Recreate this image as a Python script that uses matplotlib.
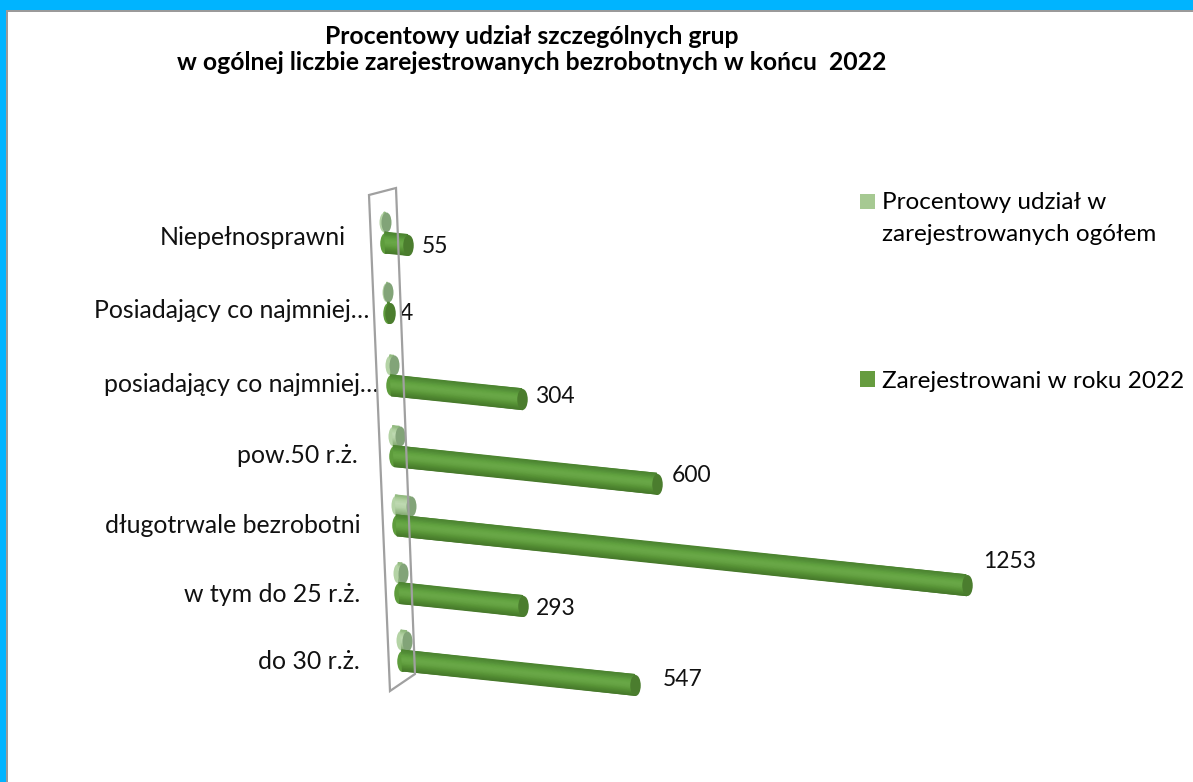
import matplotlib
matplotlib.use('Agg')
import matplotlib.pyplot as plt
import numpy as np
from matplotlib.colors import LinearSegmentedColormap
from matplotlib.legend_handler import HandlerPatch
from matplotlib.markers import MarkerStyle
from matplotlib.patches import Patch, Polygon, Rectangle
from matplotlib.transforms import Affine2D

plt.rcParams['font.family'] = ['Lato', 'DejaVu Sans']

# data, bottom row first
categories = ['do 30 r.ż.', 'w tym do 25 r.ż.', 'długotrwale bezrobotni', 'pow.50 r.ż.',
              'posiadający co najmniej…', 'Posiadający co najmniej…', 'Niepełnosprawni']
registered = [547, 293, 1253, 600, 304, 4, 55]
share = [13, 9, 33, 15, 9, 1, 3]  # no labels in the picture, read from disc length

title = 'Procentowy udział szczególnych grup\nw ogólnej liczbie zarejestrowanych bezrobotnych w końcu  2022'
share_name = 'Procentowy udział w\nzarejestrowanych ogółem'
registered_name = 'Zarejestrowani w roku 2022'

# layout, pixels unless noted
W, H = 1193, 782
row_pos = [0, 0.964, 1.93, 2.92, 3.93, 4.97, 5.97]  # rows are not quite even in the 3D view
row_depth = [0.937, 0.93, 1.0, 0.965, 0.95, 0.95, 0.92]  # perspective squeezes some rows
label_offsets = [(-42, -1), (-39, -1), (-36, 0), (-36, 1), (-12, 1), (-19, 2), (-39, 5)]
value_offsets = [(28, 5), (13, -2), (17, 24), (15, 8), (13, 3), (10, -1), (14, -1)]
plane_px = [(369, 195), (396, 188), (415, 674), (390, 691)]

main_cmap = LinearSegmentedColormap.from_list(
    'main', ['#47792b', '#4e8630', '#5a9638', '#66a444', '#6aa848', '#62a340', '#56923a', '#4c8430'])
disc_cmap = LinearSegmentedColormap.from_list(
    'disc', ['#7fa56f', '#9abd8a', '#b6d3a8', '#c0dbb3', '#b0d0a0', '#8fb87c'])

fig = plt.figure(figsize=(W / 100, H / 100), dpi=100, facecolor='white')

# cyan frame top and left, thin grey line inside it
fig.add_artist(Rectangle((0, 1 - 10 / H), 1, 10 / H, transform=fig.transFigure, color='#00b4ff', lw=0))
fig.add_artist(Rectangle((0, 0), 6 / W, 1, transform=fig.transFigure, color='#00b4ff', lw=0))
fig.add_artist(Rectangle((6 / W, 1 - 12 / H), 1, 2 / H, transform=fig.transFigure, color='#9a9a9a', lw=0))
fig.add_artist(Rectangle((6 / W, 0), 2 / W, 1 - 10 / H, transform=fig.transFigure, color='#9a9a9a', lw=0))

# x = value, y = row position
ax = fig.add_axes([402 / W, 1 - 660.5 / H, 570 / W, 420 / H])
ax.set_xlim(0, 1253)
ax.set_ylim(0, 6)
ax.axis('off')

# the fake 3D view: rows drift left going up, bars fall to the right
shear = Affine2D.from_values(1, -0.000682, -6.2, 1, 0, 0)

fig.add_artist(Polygon([(x / W, 1 - y / H) for x, y in plane_px], closed=True, fill=False,
                       edgecolor='#a0a0a0', lw=1.6, transform=fig.transFigure, zorder=1))


def cylinder(v, row, depth, cmap, thick, body, cap, z):
    tr = Affine2D().scale(depth, 1) + shear + ax.transData
    cap_marker = MarkerStyle('o', transform=Affine2D().scale(0.5, 1))
    ms = thick * 0.72
    half = thick / 2 / 70
    ax.plot([0], [row], marker=cap_marker, ms=ms, mew=0, color=body, transform=tr, zorder=z, clip_on=False)
    ys = np.linspace(-half, half, 16)
    X = np.array([[0, v]] * len(ys), dtype=float)
    Y = np.column_stack([row + ys, row + ys])
    C = np.column_stack([ys, ys])
    ax.pcolormesh(X, Y, C, shading='gouraud', cmap=cmap, transform=tr, zorder=z, clip_on=False)
    ax.plot([v], [row], marker=cap_marker, ms=ms, mew=0, color=cap, transform=tr, zorder=z + 0.1, clip_on=False)
    return tr


for i in range(len(categories)):
    z = 3 + (len(categories) - i) * 0.5
    cylinder(share[i], row_pos[i] + 0.293, 1, disc_cmap, 20, '#b4d3a5', '#82a478', 2)
    tr = cylinder(registered[i], row_pos[i], row_depth[i], main_cmap, 21, '#5e9c3c', '#4b7d2e', z)

    ax.annotate(categories[i], xy=(0, row_pos[i]), xycoords=tr, xytext=label_offsets[i], textcoords='offset pixels',
                ha='right', va='center', fontsize=17.9, color='#111111', annotation_clip=False)
    ax.annotate(str(registered[i]), xy=(registered[i], row_pos[i]), xycoords=tr, xytext=value_offsets[i],
                textcoords='offset pixels', ha='left', va='center', fontsize=16.5, color='#111111',
                annotation_clip=False)

fig.text(532 / W, 1 - 49.5 / H, title, ha='center', va='center', fontsize=17.85, fontweight='bold',
         linespacing=1.18, color='black')


# first legend square sits on the first text line, not the middle of the block
def first_line_patch(legend, orig_handle, xdescent, ydescent, width, height, fontsize):
    return Rectangle((-xdescent, -ydescent + 12), width, height)


handles = [Patch(color='#a6c992', lw=0), Patch(color='#669c3f', lw=0)]
leg = fig.legend(handles, [share_name, registered_name], loc='upper left', bbox_to_anchor=(860 / W, 1 - 192 / H),
                 frameon=False, fontsize=17.5, handlelength=0.62, handleheight=0.62, handletextpad=0.3,
                 labelspacing=5.2, borderpad=0, borderaxespad=0,
                 handler_map={handles[0]: HandlerPatch(patch_func=first_line_patch)})
leg.get_texts()[0].set_linespacing(1.62)

plt.savefig('out.png', dpi=100)
